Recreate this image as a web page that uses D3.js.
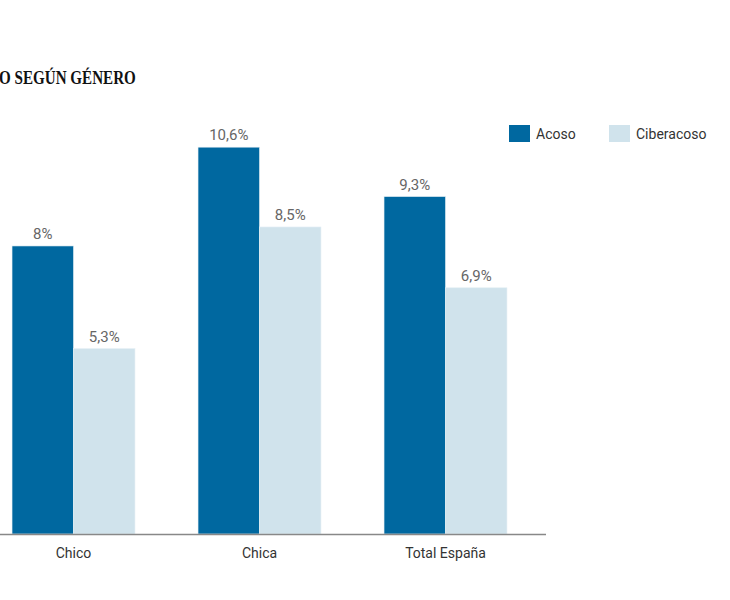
<!DOCTYPE html>
<html>
<head>
<meta charset="utf-8">
<script src="https://cdn.jsdelivr.net/npm/d3@7"></script>
<style>
	body { margin: 0; background: #fff; }
	svg { display: block; }
	.title { font-family: "Liberation Serif", serif; font-weight: bold; font-size: 18px; fill: #111; }
	.val { font-family: Roboto, sans-serif; font-size: 15px; fill: #666; }
	.cat { font-family: Roboto, sans-serif; font-size: 14px; fill: #333; }
	.leg { font-family: Roboto, sans-serif; font-size: 14px; fill: #333; }
</style>
</head>
<body>
<script>
var categories = ["Chico", "Chica", "Total España"];
var series = ["Acoso", "Ciberacoso"];
var acoso = [8, 10.6, 9.3];
var ciberacoso = [5.3, 8.5, 6.9];
var labelsAcoso = ["8%", "10,6%", "9,3%"];
var labelsCiber = ["5,3%", "8,5%", "6,9%"];

var COLORS = ["#0068a0", "#d0e3ec"];
var W = 730, H = 600;
var BASE = 534;

var svg = d3.select("body").append("svg").attr("width", W).attr("height", H);

// title is cut at the left edge in the original
svg.append("text")
	.attr("class", "title")
	.attr("transform", "translate(-1,84) scale(0.84,1)")
	.text("O SEGÚN GÉNERO");

var x = d3.scaleBand()
	.domain(categories)
	.range([-19.5, 538.5])
	.paddingInner(0.339)
	.paddingOuter(0.1695);

var xs = d3.scaleBand()
	.domain(series)
	.range([0, x.bandwidth()]);

var y = d3.scaleLinear()
	.domain([0.42, 12])
	.range([BASE, BASE - 11.58 * 38]);

var rows = [];
categories.forEach(function (c, i) {
	rows.push({ cat: c, s: "Acoso", value: acoso[i], label: labelsAcoso[i] });
	rows.push({ cat: c, s: "Ciberacoso", value: ciberacoso[i], label: labelsCiber[i] });
});

var color = d3.scaleOrdinal().domain(series).range(COLORS);

svg.selectAll("rect.bar")
	.data(rows)
	.enter().append("rect")
	.attr("class", "bar")
	.attr("x", function (d) { return x(d.cat) + xs(d.s); })
	.attr("width", xs.bandwidth())
	.attr("y", function (d) { return y(d.value); })
	.attr("height", function (d) { return BASE - y(d.value); })
	.attr("fill", function (d) { return color(d.s); })
	.attr("stroke", "#e6f0f5")
	.attr("stroke-width", 0.6);

svg.selectAll("text.val")
	.data(rows)
	.enter().append("text")
	.attr("class", "val")
	.attr("text-anchor", "middle")
	.attr("x", function (d) { return x(d.cat) + xs(d.s) + xs.bandwidth() / 2; })
	.attr("y", function (d) { return y(d.value) - 7; })
	.text(function (d) { return d.label; });

// baseline
svg.append("line")
	.attr("x1", 0).attr("x2", 546)
	.attr("y1", BASE + 0.5).attr("y2", BASE + 0.5)
	.attr("stroke", "#888")
	.attr("stroke-width", 1.5);

svg.selectAll("text.cat")
	.data(categories)
	.enter().append("text")
	.attr("class", "cat")
	.attr("text-anchor", "middle")
	.attr("x", function (d) { return x(d) + x.bandwidth() / 2; })
	.attr("y", 558)
	.text(function (d) { return d; });

// legend
var legX = [509, 609];
var leg = svg.selectAll("g.leg")
	.data(series)
	.enter().append("g")
	.attr("transform", function (d, i) { return "translate(" + legX[i] + ",125)"; });

leg.append("rect")
	.attr("width", 21)
	.attr("height", 17)
	.attr("fill", function (d) { return color(d); });

leg.append("text")
	.attr("class", "leg")
	.attr("x", 27)
	.attr("y", 14)
	.text(function (d) { return d; });
</script>
</body>
</html>
